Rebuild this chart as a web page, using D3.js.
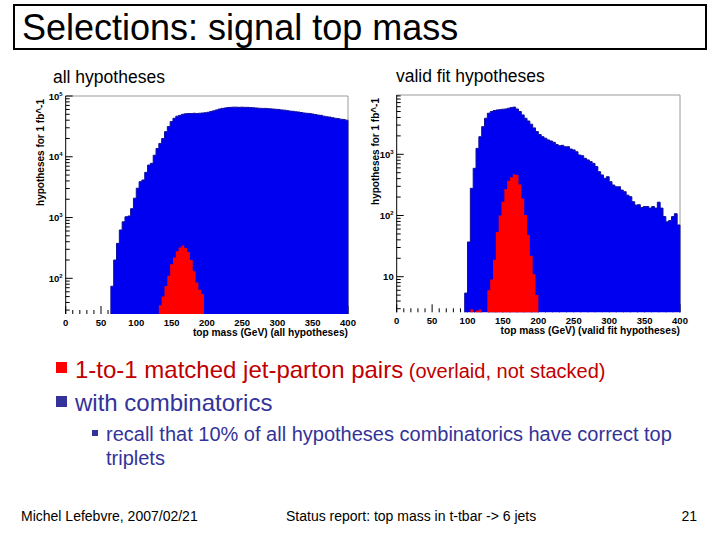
<!DOCTYPE html>
<html><head><meta charset="utf-8">
<script src="https://cdn.jsdelivr.net/npm/d3@7"></script>
<style>body{margin:0;background:#fff} svg{display:block}</style>
</head><body>
<svg id="c" width="720" height="540"></svg>
<script>
// ---------------- data ----------------
const binWidth = 4; // GeV
const xTicks = [0, 50, 100, 150, 200, 250, 300, 350, 400];
const leftYTicks = [100, 1000, 10000, 100000];
const rightYTicks = [10, 100, 1000];

// all hypotheses (blue), bins starting at 64 GeV
const leftBlueStart = 64;
const leftBlue = [
  74, 200, 376, 624, 850, 1030, 1060, 1400, 2080, 3040,
  3890, 4150, 5540, 7300, 7800, 10600, 13700, 16600, 20000, 25900,
  31400, 37900, 43000, 46500,
  48000, 50000, 51000, 51500, 51500, 52000, 51500, 52000, 52500, 53000,
  54000, 55500, 57000, 59000, 61000, 62500, 63500, 64500, 65000, 65500,
  65500, 65000, 65500, 65000, 65000, 64500, 64000, 63500, 63000, 62500,
  62500, 62000, 61500, 61000, 60500, 60000, 59000, 58500, 57500, 56500,
  56000, 55000, 54500, 53500, 52500, 52000, 51500, 50500, 49500, 48500,
  48000, 46500, 45500, 45000, 44000, 43000, 42500, 41500, 41000, 40000
];
// all hypotheses, matched (red), bins starting at 132 GeV
const leftRedStart = 132;
const leftRed = [36, 50, 75, 110, 170, 220, 280, 320, 345, 315, 270, 200, 130, 85, 65, 55];

// valid fit hypotheses (blue), bins starting at 96 GeV
const rightBlueStart = 96;
const rightBlue = [
  5.4, 37, 278, 590, 1250, 1940, 2830, 3880, 4690, 4990,
  5180, 5300, 5370, 5450, 5500, 5650, 5800, 5900, 5500, 5000,
  4400, 3880, 3500, 3100, 2700, 2350, 2100, 1940, 1830, 1720,
  1650, 1570, 1450, 1380, 1400, 1330, 1330, 1220, 1180, 1100,
  975, 950, 860, 810, 760, 710, 630, 520, 460, 405,
  430, 357, 315, 295, 295, 260, 245, 215, 203, 168,
  148, 150, 135, 140, 140, 132, 140, 132, 165, 132,
  96, 79, 83, 96, 107, 70
];
// valid fit, matched (red), bins starting at 104 GeV
const rightRedStart = 104;
const rightRed = [2.9, 0, 2.8, 2.9, 0, 0, 6, 9, 19, 54, 100, 168, 270, 370, 420, 470, 460, 320, 190, 102, 48, 22, 11, 5];

// ---------------- drawing ----------------
const FONT = "'Liberation Sans', Arial, Helvetica, sans-serif";
const svg = d3.select('#c').style('font-family', FONT);
svg.append('rect').attr('width', 720).attr('height', 540).attr('fill', '#fff');

// title box
svg.append('rect').attr('x', 14).attr('y', 5).attr('width', 692).attr('height', 44)
  .attr('fill', 'none').attr('stroke', '#000').attr('stroke-width', 2);
svg.append('text').attr('x', 22).attr('y', 40).attr('font-size', 36).attr('fill', '#000')
  .text('Selections: signal top mass');

svg.append('text').attr('x', 53).attr('y', 83).attr('font-size', 17.5).text('all hypotheses');
svg.append('text').attr('x', 396).attr('y', 82).attr('font-size', 17.5).text('valid fit hypotheses');

const BLUE = '#0000f0', RED = '#ff0000';

function panel(cfg) {
  const g = svg.append('g');
  const x = d3.scaleLinear().domain([0, 400]).range([cfg.x0, cfg.x1]);
  const y = d3.scaleLog().domain([cfg.ymin, cfg.ymax]).range([cfg.y1, cfg.y0]).clamp(true);
  const base = cfg.y1;

  // frame (top/right grey)
  g.append('path').attr('d', `M${cfg.x0},${cfg.y0}H${cfg.x1}V${cfg.y1}`)
    .attr('fill', 'none').attr('stroke', '#9a9a9a').attr('stroke-width', 1);

  // x ticks (inside, pointing up)
  const xMinor = d3.range(0, 401, 10);
  g.append('g').selectAll('line').data(xMinor).join('line')
    .attr('x1', d => x(d)).attr('x2', d => x(d))
    .attr('y1', base).attr('y2', d => base - (d % 50 === 0 ? 8 : 4))
    .attr('stroke', '#000').attr('stroke-width', 1);

  // y ticks (inside, pointing right)
  const yMinor = y.ticks().filter(v => v >= cfg.ymin && v <= cfg.ymax);
  g.append('g').selectAll('line').data(yMinor).join('line')
    .attr('x1', cfg.x0).attr('x2', d => cfg.x0 + (cfg.yTicks.includes(d) ? 7 : 4))
    .attr('y1', d => y(d)).attr('y2', d => y(d))
    .attr('stroke', '#000').attr('stroke-width', 1);

  function hist(start, vals, fill, stroke) {
    const pts = [];
    vals.forEach((v, i) => {
      const lo = start + i * binWidth;
      const yy = v > 0 ? y(v) : base;
      pts.push([x(lo), yy], [x(lo + binWidth), yy]);
    });
    const area = d3.area().x(d => d[0]).y0(base).y1(d => d[1]);
    g.append('path').attr('d', area(pts)).attr('fill', fill);
    if (stroke) {
      const lp = [[pts[0][0], base], ...pts, [pts[pts.length - 1][0], base]];
      g.append('path').attr('d', d3.line()(lp)).attr('fill', 'none')
        .attr('stroke', stroke).attr('stroke-width', 1);
    }
  }
  hist(cfg.blueStart, cfg.blue, BLUE, '#10109a');
  hist(cfg.redStart, cfg.red, RED, null);

  // axis lines
  g.append('line').attr('x1', cfg.x0).attr('x2', cfg.x0).attr('y1', cfg.y0).attr('y2', cfg.y1)
    .attr('stroke', '#000').attr('stroke-width', 1);

  // x labels
  g.append('g').selectAll('text').data(xTicks).join('text')
    .attr('x', d => x(d)).attr('y', base + 12).attr('text-anchor', 'middle')
    .attr('font-size', 9.5).attr('font-weight', 'bold').text(d => d);
  g.append('text').attr('x', cfg.x1).attr('y', base + 21.5).attr('text-anchor', 'end')
    .attr('font-size', 10.2).attr('font-weight', 'bold').text(cfg.xTitle);

  // y labels
  cfg.yTicks.forEach(v => {
    const e = Math.round(Math.log10(v));
    const t = g.append('text').attr('x', cfg.x0 - 3).attr('y', y(v) + 3.5)
      .attr('text-anchor', 'end').attr('font-weight', 'bold').attr('font-size', 9.5);
    t.append('tspan').text('10');
    if (e !== 1) t.append('tspan').attr('dy', -4).attr('font-size', 6).text(e);
  });
  g.append('text').attr('transform', `translate(${cfg.yTitleX},${cfg.y0 + 3}) rotate(-90)`)
    .attr('text-anchor', 'end').attr('font-size', 10).attr('font-weight', 'bold')
    .text('hypotheses for 1 fb^-1');
}

panel({x0: 65.7, x1: 348, y0: 96, y1: 314, ymin: 25.85, ymax: 1e5, yTicks: leftYTicks,
  blueStart: leftBlueStart, blue: leftBlue, redStart: leftRedStart, red: leftRed,
  xTitle: 'top mass (GeV) (all hypotheses)', yTitleX: 44});
panel({x0: 396.7, x1: 680, y0: 95, y1: 312.3, ymin: 2.62, ymax: 9310, yTicks: rightYTicks,
  blueStart: rightBlueStart, blue: rightBlue, redStart: rightRedStart, red: rightRed,
  xTitle: 'top mass (GeV) (valid fit hypotheses)', yTitleX: 379});

// bullets
const NAVY = '#333399';
svg.append('rect').attr('x', 56).attr('y', 362).attr('width', 11).attr('height', 11).attr('fill', '#ff0000');
const t1 = svg.append('text').attr('x', 75).attr('y', 378).attr('fill', '#c00000');
t1.append('tspan').attr('font-size', 24).text('1-to-1 matched jet-parton pairs');
t1.append('tspan').attr('font-size', 20).text(' (overlaid, not stacked)');

svg.append('rect').attr('x', 56).attr('y', 396).attr('width', 11).attr('height', 11).attr('fill', NAVY);
svg.append('text').attr('x', 75).attr('y', 411).attr('fill', NAVY).attr('font-size', 24).text('with combinatorics');

svg.append('rect').attr('x', 92).attr('y', 430).attr('width', 6).attr('height', 6).attr('fill', NAVY);
svg.append('text').attr('x', 106).attr('y', 441).attr('fill', NAVY).attr('font-size', 20)
  .text('recall that 10% of all hypotheses combinatorics have correct top');
svg.append('text').attr('x', 106).attr('y', 465).attr('fill', NAVY).attr('font-size', 20).text('triplets');

// footer
svg.append('text').attr('x', 21).attr('y', 521).attr('font-size', 14).text('Michel Lefebvre, 2007/02/21');
svg.append('text').attr('x', 286).attr('y', 521).attr('font-size', 14).text('Status report: top mass in t-tbar -> 6 jets');
svg.append('text').attr('x', 697).attr('y', 521).attr('font-size', 14).attr('text-anchor', 'end').text('21');
</script>
</body></html>
